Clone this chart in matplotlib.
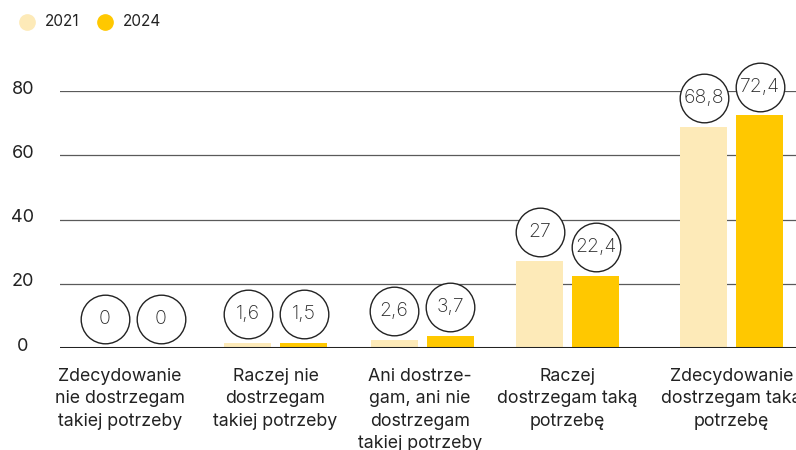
import matplotlib
matplotlib.use("Agg")
import matplotlib.pyplot as plt
import numpy as np

plt.rcParams['font.family'] = ['Inter', 'DejaVu Sans']

# data
categories = [
    "Zdecydowanie\nnie dostrzegam\ntakiej potrzeby",
    "Raczej nie\ndostrzegam\ntakiej potrzeby",
    "Ani dostrze-\ngam, ani nie\ndostrzegam\ntakiej potrzeby",
    "Raczej\ndostrzegam taką\npotrzebę",
    "Zdecydowanie\ndostrzegam taką\npotrzebę",
]
values_2021 = [0, 1.6, 2.6, 27, 68.8]
values_2024 = [0, 1.5, 3.7, 22.4, 72.4]
series_names = ["2021", "2024"]
y_ticks = [0, 20, 40, 60, 80]

# layout (pixel-like x units)
W, H = 796, 450
centers = np.array([132.5, 275.5, 422, 567.5, 731.5])
label_x = [120, 275.5, 420, 567.5, 731.5]
shift = 28
bar_w = 47
c21 = '#fdeab8'
c24 = '#ffc800'
dark = '#222222'

fig = plt.figure(figsize=(W / 100, H / 100), dpi=100)
ax = fig.add_axes([60 / W, (H - 348) / H, 1 - 60 / W, 257 / H])
ax.set_xlim(60, W)
ax.set_ylim(0, 80)
ax.axis('off')

for t in y_ticks[1:]:
    ax.axhline(t, color='#5a5a5a', lw=0.9, zorder=1)
ax.axhline(0, color=dark, lw=2.2, zorder=3)

ax.bar(centers - shift, values_2021, width=bar_w, color=c21, zorder=2)
ax.bar(centers + shift, values_2024, width=bar_w, color=c24, zorder=2)

for xs, vals in [(centers - shift, values_2021), (centers + shift, values_2024)]:
    for x, v in zip(xs, vals):
        y = v + 9
        ax.plot(x, y, marker='o', ms=35, mfc='white', mec=dark, mew=1.0,
                zorder=5, clip_on=False)
        ax.text(x, y, f"{v:g}".replace('.', ','), ha='center', va='center',
                fontsize=14, fontweight='light', color='#2a2a2a', zorder=6)

for t in y_ticks:
    ax.text(23, t + 0.6, str(t), ha='center', va='center', fontsize=13,
            color=dark, clip_on=False)

for x, lab in zip(label_x, categories):
    ax.text(x, -6.2, lab, ha='center', va='top', fontsize=12.8, color=dark,
            linespacing=1.42, clip_on=False)

# legend
for (cx, tx), name, col in zip([(27.5, 45), (105, 123)], series_names, [c21, c24]):
    fig.add_artist(plt.Line2D([cx / W], [1 - 22 / H], marker='o', ms=11,
                              color=col, mec=col, transform=fig.transFigure))
    fig.text(tx / W, 1 - 22 / H, name, ha='left', va='center', fontsize=11,
             color=dark)

fig.savefig("out.png", dpi=100)
